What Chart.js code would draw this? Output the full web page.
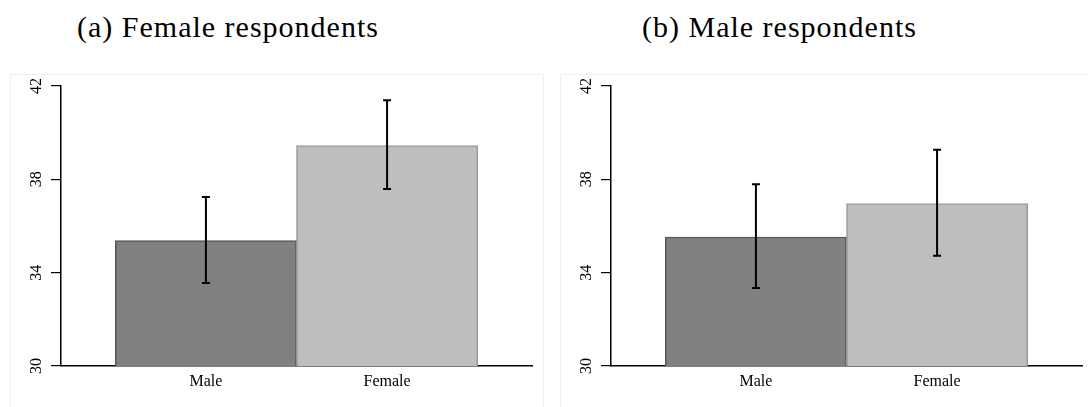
<!DOCTYPE html>
<html>
<head>
<meta charset="utf-8">
<script src="https://cdn.jsdelivr.net/npm/chart.js@4.4.1/dist/chart.umd.min.js"></script>
<style>
  html, body { margin: 0; padding: 0; background: #fff; overflow: hidden; }
  body { width: 1088px; height: 407px; position: relative; }
  .title {
    position: absolute; top: 12px; white-space: nowrap; color: #000;
    font: 30px 'Liberation Serif', serif; line-height: 30px; letter-spacing: 1px;
  }
  .panel {
    position: absolute; top: 74px; width: 532px; height: 340px;
    border: 1px solid #efefef;
  }
  .panel canvas { position: absolute; left: 0; top: 0; }
</style>
</head>
<body>
<div class="title" style="left:77px">(a) Female respondents</div>
<div class="title" style="left:642px">(b) Male respondents</div>
<div class="panel" style="left:10px"><canvas id="femaleChart" width="532" height="332"></canvas></div>
<div class="panel" style="left:560px"><canvas id="maleChart" width="532" height="332"></canvas></div>
<script>
const categories = ['Male', 'Female'];
const yTicks = [30, 34, 38, 42];

// (a) female respondents
const femaleRespMeans = [35.38, 39.45];
const femaleRespLow = [33.56, 37.59];
const femaleRespHigh = [37.24, 41.39];

// (b) male respondents
const maleRespMeans = [35.53, 36.96];
const maleRespLow = [33.34, 34.72];
const maleRespHigh = [37.79, 39.27];

const serif = "'Liberation Serif', serif";

// error bars drawn through the chart's own scales
const errorBars = {
    id: 'errorBars',
    afterDatasetsDraw(chart, args, opts) {
        const ctx = chart.ctx;
        const xs = chart.scales.x, ys = chart.scales.y;
        ctx.save();
        ctx.strokeStyle = '#000';
        ctx.lineWidth = 2;
        opts.low.forEach((lo, i) => {
            const x = xs.getPixelForValue(i + 1);
            const y1 = ys.getPixelForValue(lo);
            const y2 = ys.getPixelForValue(opts.high[i]);
            ctx.beginPath();
            ctx.moveTo(x, y1); ctx.lineTo(x, y2);
            ctx.moveTo(x - 4, y1); ctx.lineTo(x + 4, y1);
            ctx.moveTo(x - 4, y2); ctx.lineTo(x + 4, y2);
            ctx.stroke();
        });
        ctx.restore();
    }
};

// vertical y tick labels (Stata style)
const rotatedYLabels = {
    id: 'rotatedYLabels',
    afterDraw(chart) {
        const ctx = chart.ctx;
        const ys = chart.scales.y;
        ctx.save();
        ctx.fillStyle = '#000';
        ctx.font = '16px ' + serif;
        ctx.textAlign = 'center';
        ctx.textBaseline = 'middle';
        ys.ticks.forEach(t => {
            const y = ys.getPixelForValue(t.value);
            ctx.save();
            ctx.translate(chart.chartArea.left - 25, y);
            ctx.rotate(-Math.PI / 2);
            ctx.fillText(String(t.value), 0, 1);
            ctx.restore();
        });
        ctx.restore();
    }
};

function makeChart(id, means, low, high) {
    new Chart(document.getElementById(id).getContext('2d'), {
        type: 'bar',
        data: {
            datasets: [{
                data: categories.map((c, i) => ({ x: i + 1, y: means[i] })),
                backgroundColor: ['#808080', '#bebebe'],
                borderColor: ['#555555', '#9a9a9a'],
                borderWidth: 1.5,
                barPercentage: 1,
                categoryPercentage: 1
            }]
        },
        options: {
            responsive: false,
            animation: false,
            layout: { padding: { top: 11, right: 11, left: 0, bottom: 0 } },
            plugins: {
                legend: { display: false },
                tooltip: { enabled: false },
                errorBars: { low: low, high: high }
            },
            scales: {
                x: {
                    type: 'linear',
                    min: 0.2,
                    max: 2.8,
                    offset: false,
                    afterBuildTicks: s => { s.ticks = categories.map((c, i) => ({ value: i + 1 })); },
                    afterFit: s => { s.height = 41; },
                    grid: { display: true, offset: false, drawOnChartArea: false, drawTicks: false },
                    border: { display: true, color: '#000', width: 1.5 },
                    ticks: {
                        padding: 6,
                        color: '#000',
                        font: { family: serif, size: 16 },
                        callback: v => categories[v - 1]
                    }
                },
                y: {
                    min: 30,
                    max: 42,
                    afterBuildTicks: s => { s.ticks = yTicks.map(v => ({ value: v })); },
                    afterFit: s => { s.width = 50; },
                    grid: { drawOnChartArea: false, drawTicks: true, tickLength: 10, color: '#000', lineWidth: 1.2 },
                    border: { display: true, color: '#000', width: 1.5 },
                    ticks: { display: false }
                }
            }
        },
        plugins: [errorBars, rotatedYLabels]
    });
}

makeChart('femaleChart', femaleRespMeans, femaleRespLow, femaleRespHigh);
makeChart('maleChart', maleRespMeans, maleRespLow, maleRespHigh);
</script>
</body>
</html>
